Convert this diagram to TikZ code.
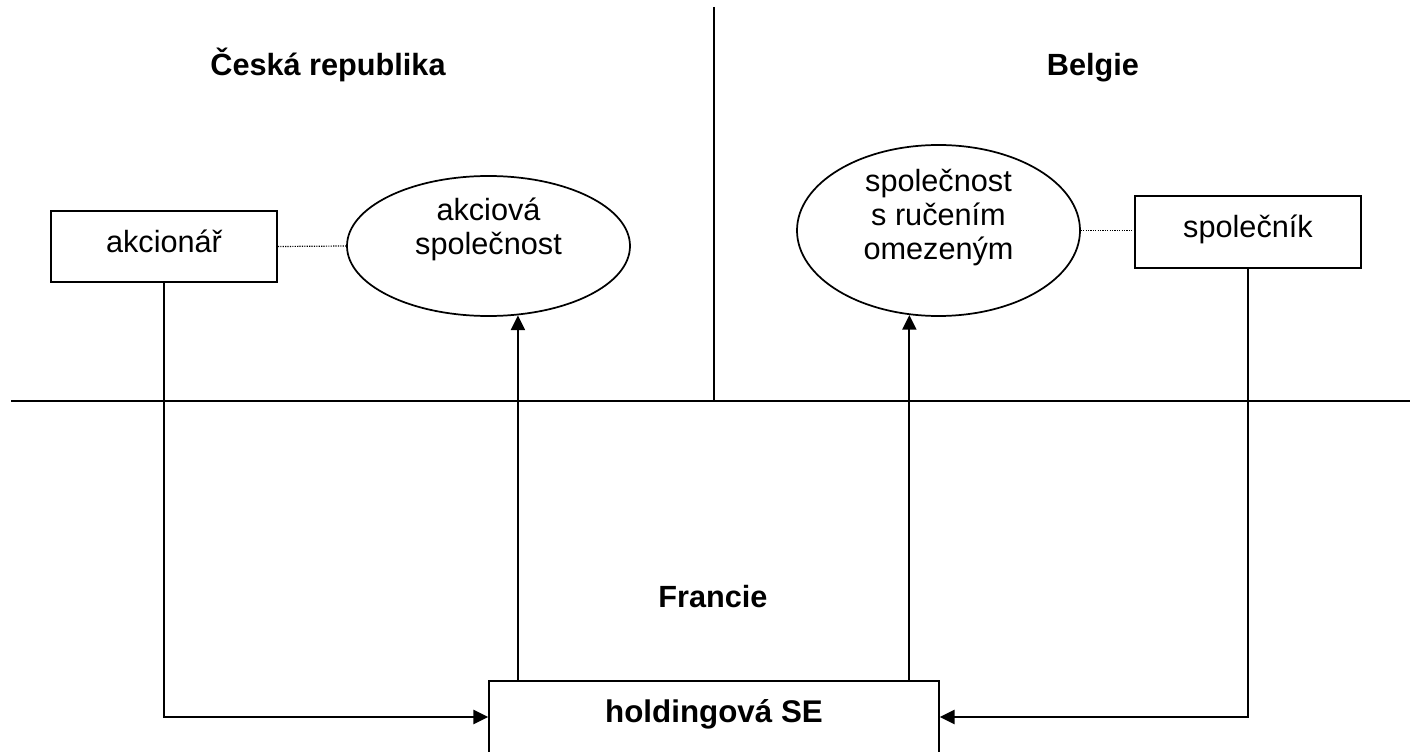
\documentclass[tikz,border=0pt]{standalone}
\usepackage{fontspec}
\setmainfont{Liberation Sans}
\usetikzlibrary{arrows.meta,shapes.geometric}
\begin{document}
\begin{tikzpicture}[x=0.75pt,y=-0.75pt,
  every node/.style={font=\fontsize{23}{25.5}\selectfont},
  box/.style={draw,line width=1.3pt,minimum width=169.5pt,minimum height=53.5pt,inner sep=0pt,text height=16pt,text depth=7.5pt},
  firma/.style={draw,ellipse,line width=1.3pt,minimum width=212.25pt,inner sep=0pt},
  zeme/.style={font=\fontsize{23}{25.5}\selectfont\bfseries,anchor=base},
  vazba/.style={line width=1.6pt},
  tok/.style={vazba,-{Triangle[length=11pt,width=10.5pt]}},
  tecky/.style={line width=0.9pt,dash pattern=on 0.9pt off 0.9pt}]
\useasboundingbox (0,0) rectangle (1410,752);
\coordinate (hraniceL) at (11,401);
\coordinate (hraniceR) at (1410,401);
\coordinate (hraniceT) at (714,7);
\draw[vazba] (hraniceL) -- (hraniceR);
\draw[vazba] (hraniceT) -- (hraniceT |- hraniceL);
\node[zeme] (cz) at (328,76) {Česká republika};
\node[zeme] (be) at (1093,76) {Belgie};
\node[zeme] (fr) at (713,607) {Francie};
\node[box] (akc) at (164,246.5) {akcionář};
\node[firma,minimum height=105pt] (akcie) at (488.5,246) {};
\node[align=center] (akcieText) at (488.5,229) {akciová\\společnost};
\node[firma,minimum height=128.25pt] (sro) at (938.5,230.5) {};
\node[align=center] (sroText) at (938.5,218) {společnost\\s ručením\\omezeným};
\node[box,minimum height=54pt] (spol) at (1248,232) {společník};
\node[box,minimum width=337.5pt,minimum height=54pt,font=\fontsize{23.5}{25.5}\selectfont\bfseries] (hold) at (714,717) {holdingová SE};
\draw[tecky] (akc.east) -- (akcie.west);
\draw[tecky] (sro.east) -- (sro.east -| spol.west);
\draw[tok] (akc.south) |- (hold.west);
\draw[tok] (spol.south) |- (hold.east);
\draw[tok] (hold.north -| akcie.-67) -- (akcie.-67);
\draw[tok] (hold.north -| sro.-109) -- (sro.-109);
\end{tikzpicture}
\end{document}
